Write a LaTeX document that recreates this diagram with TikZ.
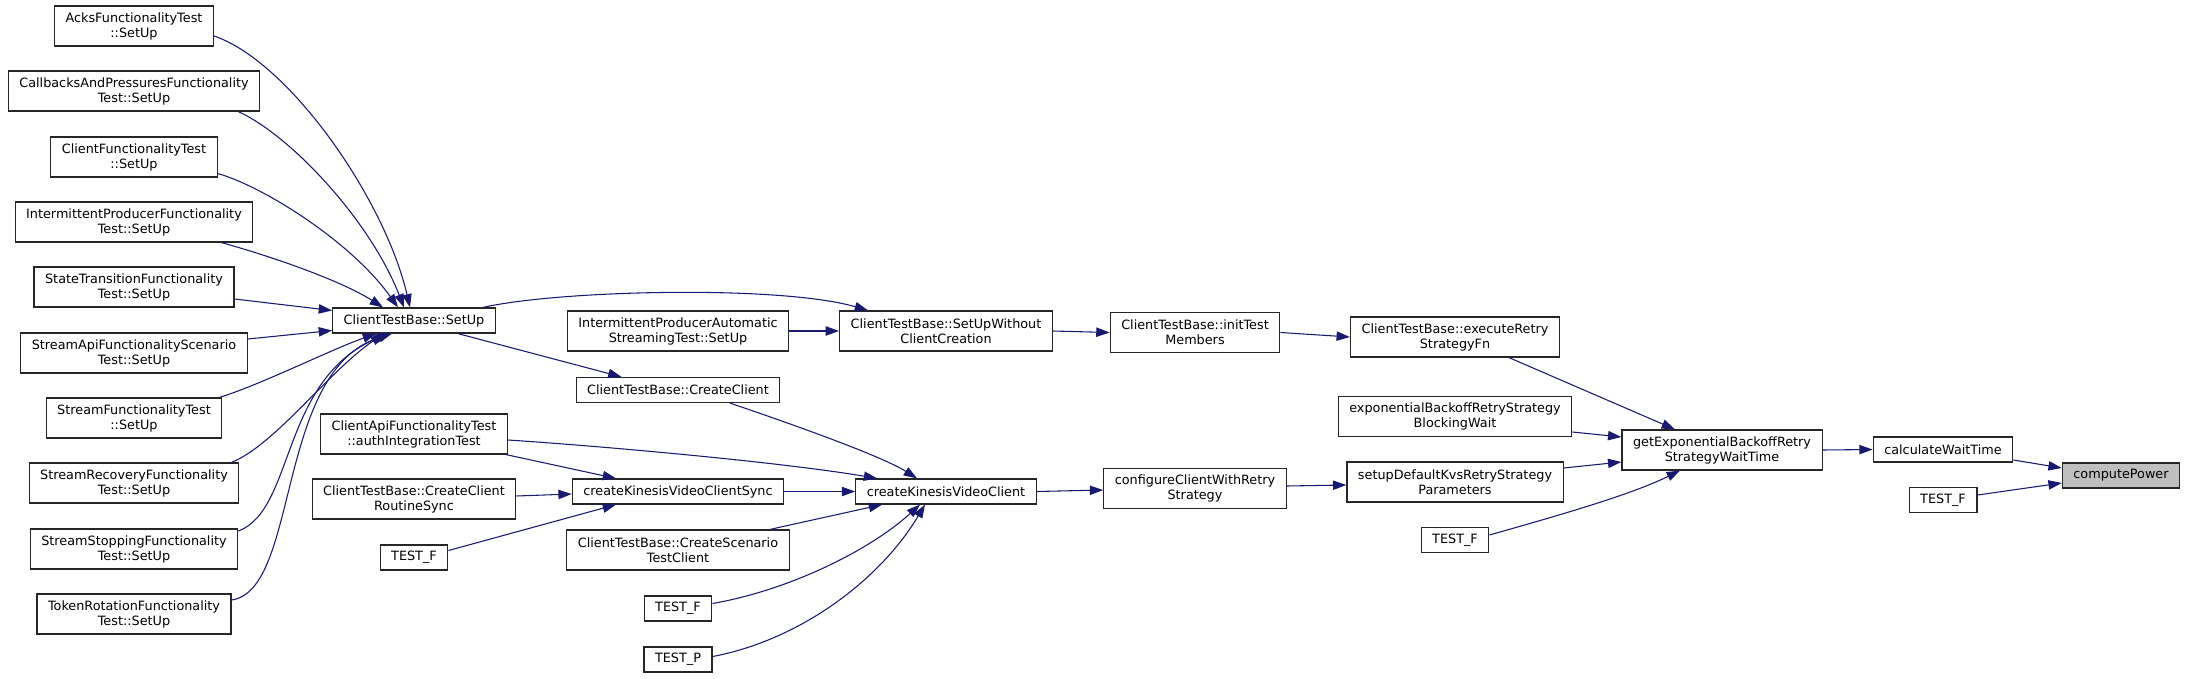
\documentclass[tikz,border=0pt]{standalone}
\usepackage{fontspec}
\setmainfont{DejaVu Sans}
\usetikzlibrary{arrows.meta,calc}
\definecolor{cEdge}{RGB}{25,25,112}
\definecolor{cRoot}{RGB}{191,191,191}
\tikzset{
  >={Triangle[length=10pt,width=7pt]},
  fn/.style={draw=black!85,line width=0.9pt,fill=white,align=center,
             inner xsep=8.3pt,inner ysep=0pt,
             font=\fontsize{9.6pt}{11.25pt}\selectfont},
  fn1/.style={fn,minimum height=18.75pt},
  fn2/.style={fn,minimum height=30pt},
  root/.style={fn1,fill=cRoot},
  call/.style={->,cEdge,line width=0.8pt},
}
\begin{document}
\begin{tikzpicture}[x=0.75pt,y=-0.75pt]
  \useasboundingbox (0,0) rectangle (2187,678);
  % fixtures on the left
  \node[fn2] (acks) at (134,26)  {AcksFunctionalityTest\\::SetUp};
  \node[fn2] (cbp)  at (134,91)  {CallbacksAndPressuresFunctionality\\Test::SetUp};
  \node[fn2] (cft)  at (134,157) {ClientFunctionalityTest\\::SetUp};
  \node[fn2] (ipf)  at (134,222) {IntermittentProducerFunctionality\\Test::SetUp};
  \node[fn2] (stf)  at (134,287) {StateTransitionFunctionality\\Test::SetUp};
  \node[fn2] (sas)  at (134,353) {StreamApiFunctionalityScenario\\Test::SetUp};
  \node[fn2] (sft)  at (134,418) {StreamFunctionalityTest\\::SetUp};
  \node[fn2] (srf)  at (134,483) {StreamRecoveryFunctionality\\Test::SetUp};
  \node[fn2] (ssf)  at (134,549) {StreamStoppingFunctionality\\Test::SetUp};
  \node[fn2] (trf)  at (134,614) {TokenRotationFunctionality\\Test::SetUp};
  % second column
  \node[fn1] (setup) at (414,320.5) {ClientTestBase::SetUp};
  \node[fn2] (auth)  at (414,434)   {ClientApiFunctionalityTest\\::authIntegrationTest};
  \node[fn2] (crs)   at (414,499)   {ClientTestBase::CreateClient\\RoutineSync};
  \node[fn1] (tf1)   at (414,557.5) {TEST\_F};
  % third column
  \node[fn2] (ipa)  at (678,331)   {IntermittentProducerAutomatic\\StreamingTest::SetUp};
  \node[fn1] (cc)   at (678,390)   {ClientTestBase::CreateClient};
  \node[fn1] (kvcs) at (678,491.5) {createKinesisVideoClientSync};
  \node[fn2] (cst)  at (678,550)   {ClientTestBase::CreateScenario\\TestClient};
  \node[fn1] (tf2)  at (678,608.5) {TEST\_F};
  \node[fn1] (tp)   at (678,659.5) {TEST\_P};
  % towards the root
  \node[fn2] (suw) at (946,331)    {ClientTestBase::SetUpWithout\\ClientCreation};
  \node[fn1] (kvc) at (946,491.5)  {createKinesisVideoClient};
  \node[fn2] (itm) at (1195,332.5) {ClientTestBase::initTest\\Members};
  \node[fn2] (ccr) at (1195,488.5) {configureClientWithRetry\\Strategy};
  \node[fn2] (ers) at (1455,337)   {ClientTestBase::executeRetry\\StrategyFn};
  \node[fn2] (ebw) at (1455,416.5) {exponentialBackoffRetryStrategy\\BlockingWait};
  \node[fn2] (sdk) at (1455,482)   {setupDefaultKvsRetryStrategy\\Parameters};
  \node[fn1] (tf3) at (1455,540)   {TEST\_F};
  \node[fn2] (gew) at (1722,450)   {getExponentialBackoffRetry\\StrategyWaitTime};
  \node[fn1] (cwt) at (1943,449.5) {calculateWaitTime};
  \node[fn1] (tf4) at (1943,500)   {TEST\_F};
  \node[root] (cpw) at (2121,475.5) {computePower};

  % into ClientTestBase::SetUp
  \draw[call] ($(acks.east)+(0,10)$) .. controls (290,62) and (385,200) .. ($(setup.north)+(-4,0)$);
  \draw[call] ($(cbp.south east)+(-22,0)$) .. controls (290,135) and (370,220) .. ($(setup.north)+(-10,0)$);
  \draw[call] ($(cft.south east)+(0,-4)$) .. controls (260,185) and (350,240) .. ($(setup.north)+(-16,0)$);
  \draw[call] ($(ipf.south east)+(-32,0)$) .. controls (270,256) and (340,280) .. ($(setup.north)+(-31,0)$);
  \draw[call] ($(stf.east)+(0,12)$) -- ($(setup.west)+(0,-10)$);
  \draw[call] ($(sas.east)+(0,-14)$) -- ($(setup.west)+(0,10)$);
  \draw[call] ($(sft.north east)+(-3,0)$) .. controls (260,385) and (330,350) .. ($(setup.south)+(-38,0)$);
  \draw[call] ($(srf.north east)+(-8,0)$) .. controls (275,445) and (330,370) .. ($(setup.south)+(-30,0)$);
  \draw[call] ($(ssf.east)+(0,-18)$) .. controls (295,510) and (280,380) .. ($(setup.south)+(-26,0)$);
  \draw[call] ($(trf.east)+(0,-14)$) .. controls (300,590) and (275,370) .. ($(setup.south)+(-22,0)$);

  \draw[call] ($(setup.north east)+(-13,0)$) .. controls (560,290) and (780,285) .. ($(suw.north west)+(29,0)$);
  \draw[call] ($(setup.south east)+(-38,0)$) -- ($(cc.north west)+(46,0)$);
  \draw[call] (ipa.east) -- (suw.west);
  \draw[call] (suw.east) -- (itm.west);
  \draw[call] (itm.east) -- (ers.west);
  \draw[call] ($(ers.south)+(54,0)$) -- ($(gew.north)+(-47,0)$);

  % into createKinesisVideoClient
  \draw[call] ($(cc.south)+(52,0)$) .. controls (780,420) and (880,455) .. ($(kvc.north)+(-29,0)$);
  \draw[call] ($(auth.east)+(0,6)$) .. controls (600,446) and (780,462) .. ($(kvc.north west)+(22,0)$);
  \draw[call] ($(auth.south east)+(-2,0)$) -- ($(kvcs.north)+(-62,0)$);
  \draw[call] ($(crs.east)+(0,-3)$) -- ($(kvcs.west)+(0,2.5)$);
  \draw[call] ($(tf1.east)+(0,-7)$) -- ($(kvcs.south)+(-62,0)$);
  \draw[call] (kvcs.east) -- (kvc.west);
  \draw[call] ($(cst.north)+(92,0)$) -- ($(kvc.south west)+(27,0)$);
  \draw[call] ($(tf2.east)+(0,-5)$) .. controls (790,590) and (870,550) .. ($(kvc.south)+(-26,0)$);
  \draw[call] ($(tp.east)+(0,-3)$) .. controls (800,640) and (880,580) .. ($(kvc.south)+(-21,0)$);

  \draw[call] (kvc.east) -- ($(ccr.west)+(0,1.5)$);
  \draw[call] ($(ccr.east)+(0,-2.5)$) -- ($(sdk.west)+(0,3)$);
  \draw[call] ($(ebw.east)+(0,15.5)$) -- ($(gew.west)+(0,-13)$);
  \draw[call] ($(sdk.east)+(0,-14)$) -- ($(gew.west)+(0,12)$);
  \draw[call] ($(tf3.east)+(0,-5)$) .. controls (1560,515) and (1630,495) .. ($(gew.south)+(-42,0)$);
  \draw[call] (gew.east) -- (cwt.west);
  \draw[call] ($(cwt.east)+(0,10.5)$) -- ($(cpw.west)+(0,-7.5)$);
  \draw[call] ($(tf4.east)+(0,-5)$) -- ($(cpw.west)+(0,7.5)$);
\end{tikzpicture}
\end{document}
